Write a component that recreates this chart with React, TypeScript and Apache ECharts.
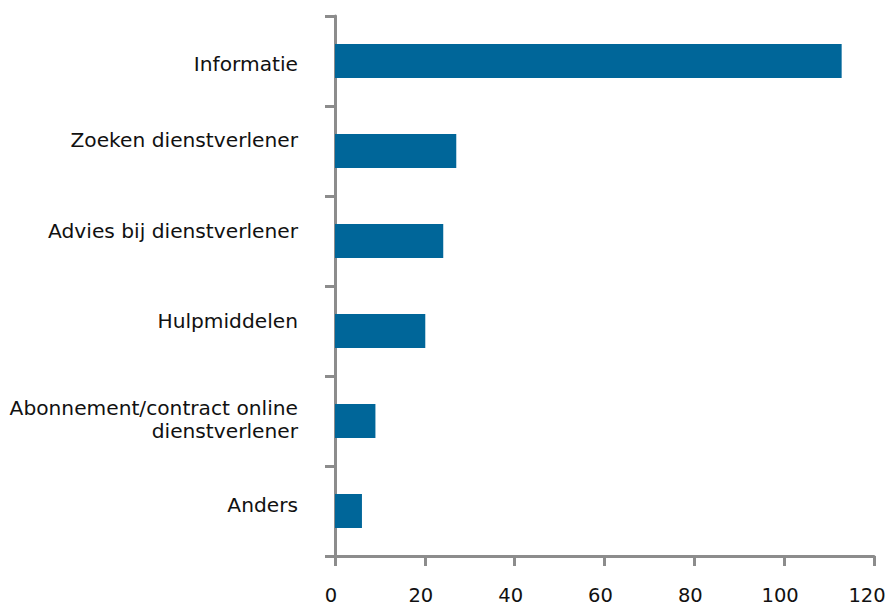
import React, { useEffect, useRef } from "react";
import * as echarts from "echarts";

const categories = [
  "Informatie",
  "Zoeken dienstverlener",
  "Advies bij dienstverlener",
  "Hulpmiddelen",
  "Abonnement/contract online\ndienstverlener",
  "Anders",
];
const values = [112.8, 27.0, 24.1, 20.1, 9.0, 6.0];
const xMin = 0;
const xMax = 120;
const xInterval = 20;

// vertical label nudges (padding top / bottom, px), as in the reference
const labelPads = [
  [6, 0, 0, 0],
  [0, 0, 22, 0],
  [0, 0, 20, 0],
  [0, 0, 20, 0],
  [0, 0, 6, 0],
  [0, 0, 13, 0],
];

export default function App() {
  const ref = useRef<HTMLDivElement>(null);
  useEffect(() => {
    if (!ref.current) return;
    const chart = echarts.init(ref.current, undefined, { renderer: "svg" });
    const axisColor = "#8c8c8c";
    const font = "'DejaVu Sans', Verdana, sans-serif";
    const textColor = "#111111";
    const base = { fontFamily: font, fontSize: 20.2, lineHeight: 26, color: textColor, align: "right" };
    const rich: Record<string, any> = { plain: { ...base } };
    labelPads.forEach((p, i) => {
      rich["r" + i] = { ...base, padding: p };
    });
    chart.setOption({
      animation: false,
      backgroundColor: "#ffffff",
      grid: {
        left: 335,
        right: 12,
        top: 16,
        bottom: 49,
        containLabel: false,
        outerBoundsMode: "none",
      },
      xAxis: {
        type: "value",
        min: xMin,
        max: xMax,
        interval: xInterval,
        axisLine: { show: true, lineStyle: { color: axisColor, width: 3 } },
        axisTick: { show: true, length: 10, lineStyle: { color: axisColor, width: 3 } },
        splitLine: { show: false },
        axisLabel: {
          margin: 32,
          color: textColor,
          fontFamily: font,
          fontSize: 19.5,
          lineHeight: 14,
          hideOverlap: false,
          formatter: (v: number) => (v === xMax ? "{e|" + v + "}" : "{n|" + v + "}"),
          rich: {
            n: { fontFamily: font, fontSize: 19.5, lineHeight: 14, color: textColor, padding: [0, 8, 0, 0] },
            e: { fontFamily: font, fontSize: 19.5, lineHeight: 14, color: textColor, padding: [0, 14, 0, 0] },
          },
        },
      },
      yAxis: {
        type: "category",
        inverse: true,
        data: categories,
        axisLine: { show: true, lineStyle: { color: axisColor, width: 3 } },
        axisTick: { show: true, length: 10, alignWithLabel: false, lineStyle: { color: axisColor, width: 3 } },
        splitLine: { show: false },
        axisLabel: {
          margin: 37,
          color: textColor,
          fontFamily: font,
          fontSize: 20.2,
          lineHeight: 26,
          align: "right",
          interval: 0,
          formatter: (value: string) => {
            const i = categories.indexOf(value);
            const lines = value.split("\n");
            if (lines.length === 1) return "{r" + i + "|" + value + "}";
            return lines
              .map((l, k) => (k === lines.length - 1 ? "{r" + i + "|" + l + "}" : "{plain|" + l + "}"))
              .join("\n");
          },
          rich,
        },
      },
      series: [
        {
          type: "bar",
          data: values,
          barWidth: 34,
          itemStyle: { color: "#006699" },
        },
      ],
    });
    return () => chart.dispose();
  }, []);
  return (
    <div
      ref={ref}
      style={{ position: "fixed", left: 0, top: 0, width: 886, height: 605, background: "#fff" }}
    />
  );
}
